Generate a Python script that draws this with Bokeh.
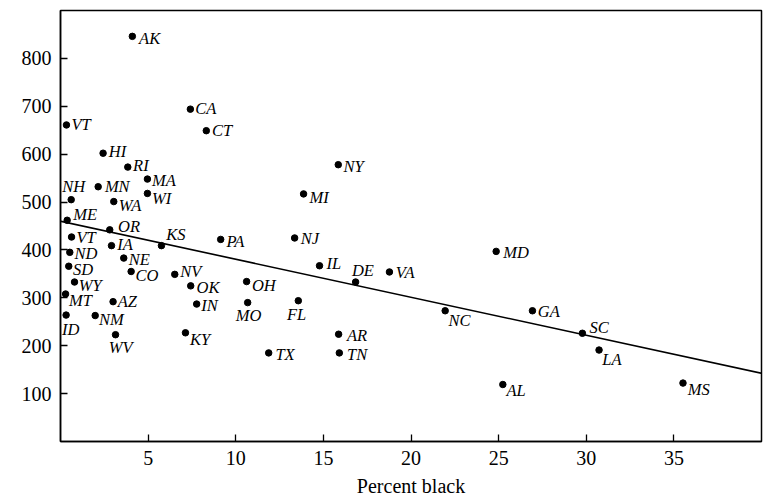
from bokeh.plotting import figure
from bokeh.models import ColumnDataSource, FixedTicker, Range1d, Slope
from bokeh.core.properties import value
from bokeh.embed import file_html
from bokeh.resources import INLINE

# ---- data ----
states = ["AK", "CA", "CT", "VT", "HI", "RI", "MA", "MN", "WI", "NH",
          "WA", "ME", "OR", "VT", "KS", "PA", "IA", "ND", "NE", "SD",
          "CO", "NV", "WY", "OK", "MT", "AZ", "IN", "MO", "OH", "ID",
          "NM", "KY", "WV", "NJ", "IL", "DE", "VA", "FL", "NC", "AR",
          "TN", "TX", "AL", "MD", "NY", "MI", "GA", "SC", "LA", "MS"]
percent_black = [4.1, 7.41, 8.32, 0.34, 2.43, 3.84, 4.96, 2.15, 4.96, 0.61,
                 3.04, 0.38, 2.81, 0.63, 5.76, 9.14, 2.91, 0.53, 3.61, 0.47,
                 4.03, 6.52, 0.8, 7.43, 0.29, 3.0, 7.77, 10.68, 10.62, 0.32,
                 1.98, 7.13, 3.14, 13.36, 14.78, 16.84, 18.77, 13.57, 21.95, 15.87,
                 15.91, 11.88, 25.24, 24.86, 15.85, 13.87, 26.93, 29.78, 30.73, 35.52]
rate = [846, 694, 649, 661, 602, 573, 548, 532, 518, 505,
        501, 462, 442, 427, 409, 422, 409, 395, 383, 366,
        355, 349, 333, 325, 308, 292, 287, 290, 334, 264,
        263, 227, 223, 425, 367, 333, 354, 294, 273, 224,
        185, 185, 119, 397, 578, 517, 273, 226, 191, 122]
fit_intercept = 460
fit_slope = -7.94
x_ticks = [5, 10, 15, 20, 25, 30, 35]
y_ticks = [100, 200, 300, 400, 500, 600, 700, 800]

# ---- label offsets (screen px, relative to the dot) ----
label_dx = [6.7, 5, 5.7, 5, 5.7, 5.3, 4.7, 6.7, 4.7, -9,
            5, 6, 8.3, 5, 4.7, 5.7, 5.7, 4.7, 5, 4.3,
            4.3, 5.5, 4.3, 5.8, 3.3, 4.7, 4.7, -12, 5.3, -4,
            3.7, 4.6, -6.7, 6, 7, -3.7, 6.3, -11.3, 3.3, 8.3,
            7.7, 6.7, 3.6, 7.2, 5.3, 6, 5.3, 7, 3.3, 4.7]
label_dy = [7.7, 5.7, 5.7, 6, 4, 4.3, 7.3, 5.7, 10.7, -7.3,
            9.7, 0, 2.3, 6.7, -4.7, 8, 4.7, 7, 7.7, 9,
            10.3, 2.7, 9, 7.3, 12, 5.7, 7.7, 18.5, 9.7, 20.7,
            10.3, 12.3, 19, 6.3, 3.5, -5.7, 6.7, 19.5, 15.7, 7.3,
            7.7, 7.7, 11.7, 7.3, 7.7, 10, 7, 0.7, 15.7, 12.3]
baseline_shift = -6

src = ColumnDataSource(dict(x=percent_black, y=rate, name=states,
                            dx=label_dx,
                            dy=[d + baseline_shift for d in label_dy]))

p = figure(width=764, height=500, output_backend="svg", toolbar_location=None,
           x_range=Range1d(0, 40), y_range=Range1d(0, 900),
           min_border_left=60, min_border_right=3, min_border_top=10,
           min_border_bottom=59)
p.xgrid.visible = False
p.ygrid.visible = False
p.outline_line_color = "black"
p.outline_line_width = 1.5
p.outline_line_alpha = 1.0
p.background_fill_color = "white"
p.border_fill_color = "white"

for ax in (p.xaxis[0], p.yaxis[0]):
    ax.axis_line_width = 1.5
    ax.axis_line_color = "black"
    ax.major_tick_in = 7
    ax.major_tick_out = 0
    ax.major_tick_line_width = 1.3
    ax.minor_tick_in = 0
    ax.minor_tick_out = 0
    ax.major_label_text_font = "Liberation Serif"
    ax.major_label_text_font_size = "20px"
    ax.major_label_text_color = "black"

p.xaxis.ticker = FixedTicker(ticks=x_ticks)
p.yaxis.ticker = FixedTicker(ticks=y_ticks)
p.xaxis.major_label_standoff = 9
p.yaxis.major_label_standoff = 9
p.xaxis.axis_label = "Percent black"
p.xaxis.axis_label_text_font = "Liberation Serif"
p.xaxis.axis_label_text_font_style = "normal"
p.xaxis.axis_label_text_font_size = "20px"
p.xaxis.axis_label_text_color = "black"
p.xaxis.axis_label_standoff = 7

p.add_layout(Slope(gradient=fit_slope, y_intercept=fit_intercept,
                   line_color="black", line_width=1.6))

p.scatter("x", "y", source=src, size=6.5, color="black")
p.text("x", "y", text="name", source=src, x_offset="dx", y_offset="dy",
       text_font=value("Liberation Serif"), text_font_style="italic",
       text_font_size="16.5px", text_align="left", text_baseline="alphabetic",
       text_color="black")

open("out.html", "w").write(file_html(p, INLINE))
